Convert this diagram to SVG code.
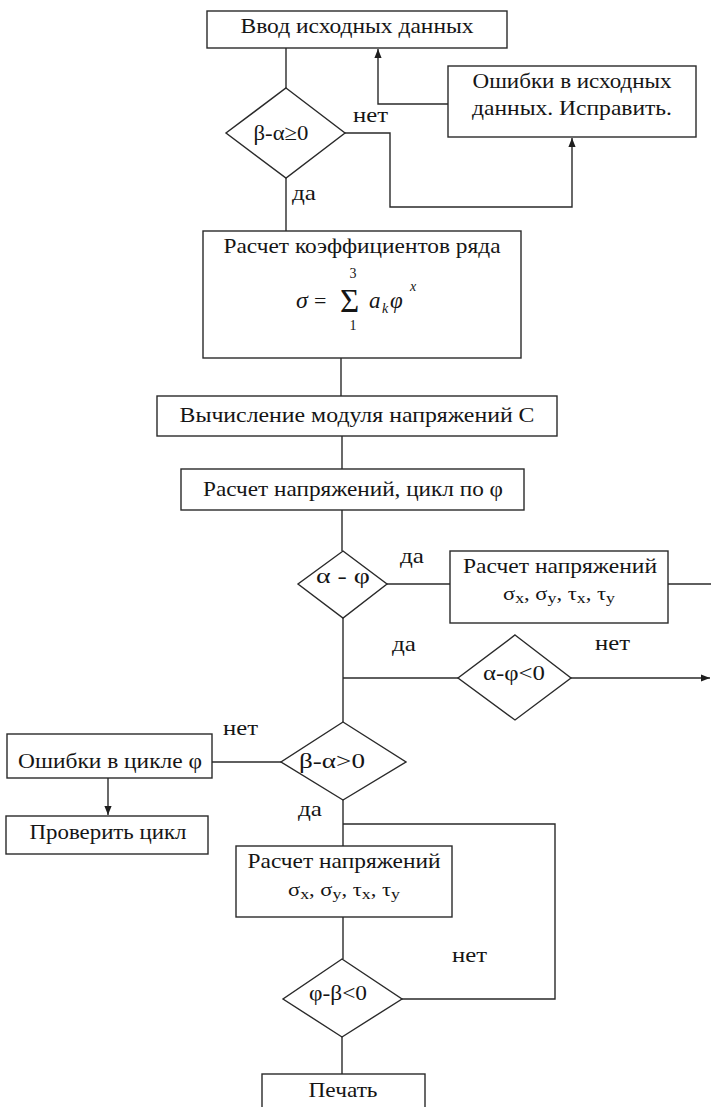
<svg xmlns="http://www.w3.org/2000/svg" width="711" height="1107" viewBox="0 0 711 1107">
<defs>
<style>
.b{fill:#fff;stroke:#2a2a2a;stroke-width:1.4}
.c{fill:none;stroke:#2a2a2a;stroke-width:1.4}
.m{text-anchor:middle}
.i{font-style:italic}
</style>
<marker id="ah" viewBox="0 0 10 10" refX="10" refY="5" markerWidth="9" markerHeight="9" markerUnits="userSpaceOnUse" orient="auto">
<path d="M0,1 L10,5 L0,9 Z" fill="#1e1e1e"/>
</marker>
</defs>
<rect width="711" height="1107" fill="#fff"/>
<g id="connectors">
<path class="c" d="M286,48 V88"/>
<path class="c" d="M286,178 V231"/>
<path class="c" d="M345,133 H390 V207 H572 V138" marker-end="url(#ah)"/>
<path class="c" d="M448,104 H378 V49" marker-end="url(#ah)"/>
<path class="c" d="M341,358 V396"/>
<path class="c" d="M342,436 V469"/>
<path class="c" d="M342,510 V551"/>
<path class="c" d="M387,584 H450"/>
<path class="c" d="M668,584 H711"/>
<path class="c" d="M343,618 V722"/>
<path class="c" d="M343,678 H458"/>
<path class="c" d="M571,678 H710" marker-end="url(#ah)"/>
<path class="c" d="M281,762 H212"/>
<path class="c" d="M108,778 V815" marker-end="url(#ah)"/>
<path class="c" d="M343,800 V846"/>
<path class="c" d="M343,824 H555 V999 H402"/>
<path class="c" d="M343,917 V959"/>
<path class="c" d="M342,1037 V1074"/>
</g>
<g font-family="'Liberation Serif', 'Times New Roman', serif" font-size="22" fill="#151515">
<g id="n_input">
<rect class="b" x="207" y="11" width="300" height="37"/>
<text class="m" x="357" y="33" textLength="233" lengthAdjust="spacingAndGlyphs">Ввод исходных данных</text>
</g>
<g id="n_cond1">
<polygon class="b" points="286,88 345,133 286,178 226,133"/>
<text class="m" x="281" y="140" textLength="55" lengthAdjust="spacingAndGlyphs">β-α≥0</text>
</g>
<g id="n_err1">
<rect class="b" x="448" y="66" width="248" height="71"/>
<text class="m" x="572" y="88" textLength="199" lengthAdjust="spacingAndGlyphs">Ошибки в исходных</text>
<text class="m" x="572" y="115" textLength="200" lengthAdjust="spacingAndGlyphs">данных. Исправить.</text>
</g>
<g id="n_coef">
<rect class="b" x="203" y="231" width="318" height="127"/>
<text class="m" x="362" y="253" textLength="277" lengthAdjust="spacingAndGlyphs">Расчет коэффициентов ряда</text>
<text class="i" x="296" y="308" font-size="24">σ</text>
<text x="314" y="308" font-size="22">=</text>
<text x="340" y="312" font-size="33">Σ</text>
<text class="m" x="353" y="278" font-size="14">3</text>
<text class="m" x="353" y="330" font-size="14">1</text>
<text class="i" x="369" y="308" font-size="23">a</text>
<text class="i" x="382" y="313" font-size="14">k</text>
<text class="i" x="390" y="308" font-size="23">φ</text>
<text class="i" x="410" y="291" font-size="14">x</text>
</g>
<g id="n_mod">
<rect class="b" x="157" y="396" width="400" height="40"/>
<text class="m" x="357" y="422" textLength="355" lengthAdjust="spacingAndGlyphs">Вычисление модуля напряжений С</text>
</g>
<g id="n_loop">
<rect class="b" x="181" y="469" width="343" height="41"/>
<text class="m" x="353" y="496" textLength="300" lengthAdjust="spacingAndGlyphs">Расчет напряжений, цикл по φ</text>
</g>
<g id="n_cond2">
<polygon class="b" points="343,551 387,584 343,618 298,584"/>
<text class="m" x="343" y="583" textLength="54" lengthAdjust="spacingAndGlyphs">α - φ</text>
</g>
<g id="n_calc1">
<rect class="b" x="450" y="551" width="218" height="72"/>
<text class="m" x="560" y="573" textLength="194" lengthAdjust="spacingAndGlyphs">Расчет напряжений</text>
<text class="m" x="559" y="600" font-size="19" textLength="112" lengthAdjust="spacingAndGlyphs">σ<tspan dy="3" font-size="15">x</tspan><tspan dy="-3">, σ</tspan><tspan dy="3" font-size="15">y</tspan><tspan dy="-3">, τ</tspan><tspan dy="3" font-size="15">x</tspan><tspan dy="-3">, τ</tspan><tspan dy="3" font-size="15">y</tspan></text>
</g>
<g id="n_cond3">
<polygon class="b" points="515,635 571,678 515,720 458,678"/>
<text class="m" x="514" y="680" textLength="62" lengthAdjust="spacingAndGlyphs">α-φ&lt;0</text>
</g>
<g id="n_cond4">
<polygon class="b" points="343,722 406,762 343,800 281,762"/>
<text class="m" x="332" y="768" textLength="66" lengthAdjust="spacingAndGlyphs">β-α&gt;0</text>
</g>
<g id="n_err2">
<rect class="b" x="7" y="734" width="205" height="44"/>
<text class="m" x="110" y="768" textLength="184" lengthAdjust="spacingAndGlyphs">Ошибки в цикле φ</text>
</g>
<g id="n_check">
<rect class="b" x="6" y="816" width="202" height="38"/>
<text class="m" x="108" y="839" textLength="157" lengthAdjust="spacingAndGlyphs">Проверить цикл</text>
</g>
<g id="n_calc2">
<rect class="b" x="236" y="846" width="216" height="71"/>
<text class="m" x="344" y="868" textLength="193" lengthAdjust="spacingAndGlyphs">Расчет напряжений</text>
<text class="m" x="344" y="896" font-size="19" textLength="112" lengthAdjust="spacingAndGlyphs">σ<tspan dy="3" font-size="15">x</tspan><tspan dy="-3">, σ</tspan><tspan dy="3" font-size="15">y</tspan><tspan dy="-3">, τ</tspan><tspan dy="3" font-size="15">x</tspan><tspan dy="-3">, τ</tspan><tspan dy="3" font-size="15">y</tspan></text>
</g>
<g id="n_cond5">
<polygon class="b" points="342,959 402,999 342,1037 283,999"/>
<text class="m" x="338" y="1000" textLength="58" lengthAdjust="spacingAndGlyphs">φ-β&lt;0</text>
</g>
<g id="n_print">
<rect class="b" x="262" y="1074" width="163" height="40"/>
<text class="m" x="343" y="1097" textLength="69" lengthAdjust="spacingAndGlyphs">Печать</text>
</g>
<g id="labels">
<text x="353" y="122" textLength="35" lengthAdjust="spacingAndGlyphs">нет</text>
<text x="292" y="200" textLength="24" lengthAdjust="spacingAndGlyphs">да</text>
<text x="400" y="563" textLength="24" lengthAdjust="spacingAndGlyphs">да</text>
<text x="392" y="651" textLength="24" lengthAdjust="spacingAndGlyphs">да</text>
<text x="595" y="650" textLength="35" lengthAdjust="spacingAndGlyphs">нет</text>
<text x="223" y="735" textLength="35" lengthAdjust="spacingAndGlyphs">нет</text>
<text x="298" y="816" textLength="24" lengthAdjust="spacingAndGlyphs">да</text>
<text x="452" y="962" textLength="35" lengthAdjust="spacingAndGlyphs">нет</text>
</g>
</g>
</svg>
